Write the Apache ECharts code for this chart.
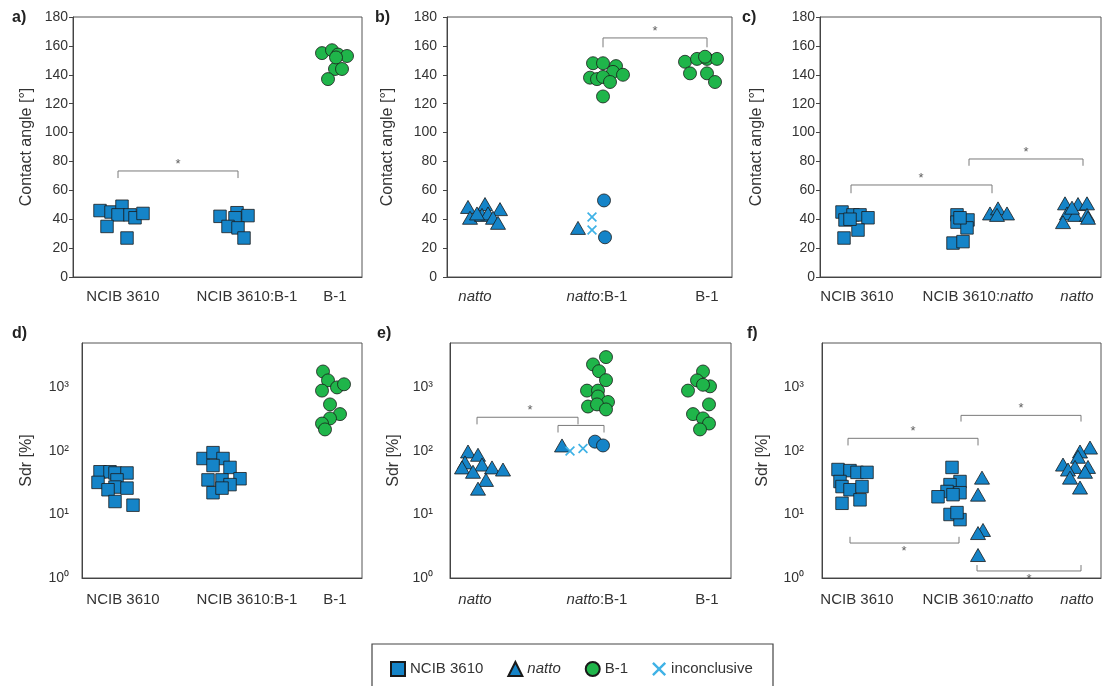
<!DOCTYPE html>
<html><head><meta charset="utf-8">
<script src="https://cdn.jsdelivr.net/npm/echarts@6.0.0/dist/echarts.min.js"></script>
<style>html,body{margin:0;padding:0;background:#fff}#c{width:1102px;height:686px}</style>
</head><body><div id="c"></div>
<script>
// ---------- categories & tick labels ----------
const catsA = ['NCIB 3610', 'NCIB 3610:B-1', 'B-1'];
const catsB = ['natto', 'natto:B-1', 'B-1'];
const catsC = ['NCIB 3610', 'NCIB 3610:natto', 'natto'];
// category centres along each panel's x scale (plot-width units)
const posA = [50, 174, 262];
const posB = [28, 150, 260];
const posC = [37, 158, 257];
const posD = [41, 165, 253];
const posE = [25, 147, 257];
const posF = [35, 156, 255];
const angleTicks = [0, 20, 40, 60, 80, 100, 120, 140, 160, 180];
const sdrTicks = [1, 10, 100, 1000];
const sdrTickLabels = ['10\u2070', '10\u00b9', '10\u00b2', '10\u00b3'];

// ---------- panel a: contact angle ----------
const aNcibX = [27, 38, 49, 45, 57, 62, 70, 34, 54];
const aNcibY = [46, 45, 49, 43, 43, 41, 44, 35, 27];
const aMixX = [147, 164, 162, 175, 155, 165, 171];
const aMixY = [42, 44.5, 41, 42.5, 35, 34, 27];
const aB1X = [249, 259, 265, 274, 262, 269, 255, 263];
const aB1Y = [155, 157, 154, 153, 144, 144, 137, 152];
// ---------- panel b ----------
const bNattoX = [21, 38, 53, 23, 35, 41, 46, 51, 30];
const bNattoY = [48.5, 50.5, 47, 41, 43, 44, 41, 37.5, 44];
const bMixTriX = [131], bMixTriY = [34];
const bMixCrossX = [145, 145], bMixCrossY = [41.5, 32.5];
const bMixBlueX = [157, 158], bMixBlueY = [53, 27.5];
const bMixGreenX = [146, 156, 169, 166, 176, 143, 150, 156, 163, 156];
const bMixGreenY = [148, 148, 146, 142, 140, 138, 137, 138.5, 135, 125];
const bB1X = [238, 250, 260, 270, 243, 260, 268, 258];
const bB1Y = [149, 151, 151, 151, 141, 141, 135, 152.5];
// ---------- panel c ----------
const cNcibX = [22, 25, 33, 40, 48, 38, 24, 30];
const cNcibY = [45, 39.5, 43, 43, 41, 32.5, 27, 40];
const cMixSqX = [137, 137, 148, 147, 133, 143, 140];
const cMixSqY = [43, 38, 39.5, 34, 23.5, 24.5, 41];
const cMixTriX = [170, 178, 187, 177];
const cMixTriY = [44, 47.5, 44, 43];
const cNattoX = [245, 258, 267, 247, 255, 267, 243, 268, 252];
const cNattoY = [51, 50.5, 51, 44, 43, 43, 38, 41, 48];
// ---------- panel d: Sdr ----------
const dNcibX = [18, 28, 33, 45, 16, 35, 33, 45, 26, 33, 51];
const dNcibY = [47, 47, 45, 45, 32, 35, 27, 26, 24.5, 16, 14];
const dMixX = [121, 131, 141, 131, 148, 126, 140, 158, 148, 131, 140];
const dMixY = [76, 94, 76, 59, 55, 35, 35, 36.5, 29.5, 22, 26];
const dB1X = [241, 246, 255, 262, 240, 248, 258, 248, 240, 243];
const dB1Y = [1780, 1290, 1000, 1120, 890, 540, 380, 325, 270, 218];
// ---------- panel e ----------
const eNattoX = [18, 28, 15, 32, 42, 53, 12, 23, 36, 28];
const eNattoY = [98, 87, 66, 61, 55, 51, 55, 47, 35, 25.5];
const eMixTriX = [112], eMixTriY = [122];
const eMixCrossX = [120, 133], eMixCrossY = [100, 109];
const eMixBlueX = [145, 153], eMixBlueY = [140, 122];
const eMixGreenX = [156, 143, 149, 156, 137, 148, 148, 158, 138, 147, 156];
const eMixGreenY = [3000, 2300, 1800, 1300, 890, 890, 720, 590, 500, 540, 450];
const eB1X = [253, 247, 260, 238, 253, 259, 243, 253, 259, 250];
const eB1Y = [1780, 1290, 1040, 890, 1100, 540, 380, 325, 270, 218];
// ---------- panel f ----------
const fNcibX = [16, 28, 35, 45, 18, 20, 28, 40, 38, 20];
const fNcibY = [51, 49, 46, 46, 33, 27.5, 24.5, 27.5, 17, 15];
const fMixSqX = [130, 138, 128, 125, 116, 138, 131, 128, 138, 135];
const fMixSqY = [55, 33, 29.5, 23, 19, 22, 20.5, 10, 8.3, 10.7];
const fMixTriX = [160, 156, 161, 156, 156];
const fMixTriY = [38, 20.5, 5.7, 5.1, 2.3];
const fNattoX = [268, 258, 256, 241, 253, 266, 246, 263, 248, 258];
const fNattoY = [113, 98, 81, 61, 56, 56, 51, 47, 38, 26.5];
// ---------- significance brackets: [x1, x2, yLine, yEnd] ----------
const bracketsA = [[45, 165, 73.4, 68.5]];
const bracketsB = [[156, 260, 165.5, 159]];
const bracketsC = [[31, 172, 63.7, 58], [149, 263, 81.7, 77]];
const bracketsE = [[27, 128, 339, 262], [108, 154, 252, 195]];
const bracketsF = [[26, 156, 158, 122], [139, 259, 363, 290], [28, 137, 3.55, 4.45], [155, 259, 1.29, 1.6]];
// star positions: [x, y, side]
const starsA = [[105, 73.4, 'top']];
const starsB = [[208, 165.5, 'top']];
const starsC = [[101, 63.7, 'top'], [206, 81.7, 'top']];
const starsE = [[80, 339, 'top']];
const starsF = [[91, 158, 'top'], [199, 363, 'top'], [82, 3.55, 'bottom'], [207, 1.29, 'bottom']];

// ---------- styling ----------
const BLUE = '#1584c8', GREEN = '#1fb54a', LIGHT = '#3fb2e6', EDGE = '#1a1a1a';
const FONT = 'Arial, "Liberation Sans", Helvetica, sans-serif';
const CROSS = 'path://M0,1.2L1.2,0L5,3.8L8.8,0L10,1.2L6.2,5L10,8.8L8.8,10L5,6.2L1.2,10L0,8.8L3.8,5Z';

const pts = (xs, ys) => xs.map((x, i) => [x, ys[i]]);
const ital = s => s.replace(/natto/g, '{i|natto}');

const panels = [
  {grid: {left: 73, top: 17, width: 289, height: 260}, log: false, cats: catsA, pos: posA, name: 'Contact angle [°]', gap: 38, lm: 5, ticks: true},
  {grid: {left: 447, top: 17, width: 285, height: 260}, log: false, cats: catsB, pos: posB, name: 'Contact angle [°]', gap: 51, lm: 10, ticks: true},
  {grid: {left: 820, top: 17, width: 281, height: 260}, log: false, cats: catsC, pos: posC, name: 'Contact angle [°]', gap: 55, lm: 5, ticks: true},
  {grid: {left: 82, top: 343, width: 280, height: 235}, log: true, cats: catsA, pos: posD, name: 'Sdr [%]', gap: 47, lm: 13, ticks: false},
  {grid: {left: 450, top: 343, width: 281, height: 235}, log: true, cats: catsB, pos: posE, name: 'Sdr [%]', gap: 48, lm: 17, ticks: false},
  {grid: {left: 822, top: 343, width: 279, height: 235}, log: true, cats: catsC, pos: posF, name: 'Sdr [%]', gap: 51, lm: 18, ticks: false}
];

const grids = [], xAxes = [], yAxes = [];
panels.forEach((p, i) => {
  grids.push(Object.assign({show: true, borderColor: '#555', borderWidth: 1, backgroundColor: 'transparent'}, p.grid));
  xAxes.push({
    gridIndex: i, type: 'value', min: 0, max: p.grid.width,
    axisLine: {show: true, onZero: false, lineStyle: {color: '#444', width: 1}},
    axisTick: {show: false}, splitLine: {show: false},
    axisLabel: {
      customValues: p.pos, color: '#333', fontSize: 15, fontFamily: FONT, margin: p.log ? 14 : 12,
      formatter: v => ital(p.cats[p.pos.indexOf(v)] || ''),
      rich: {i: {fontStyle: 'italic', fontSize: 15, color: '#333', fontFamily: FONT}}
    }
  });
  const y = {
    gridIndex: i, name: p.name, nameLocation: 'middle', nameGap: p.gap,
    nameTextStyle: {color: '#333', fontSize: 16, fontFamily: FONT},
    axisLine: {show: true, lineStyle: {color: '#444', width: 1}},
    axisTick: {show: p.ticks, inside: false, length: 4, lineStyle: {color: '#444'}},
    splitLine: {show: false},
    axisLabel: {color: '#333', fontSize: 14, fontFamily: FONT, margin: p.lm}
  };
  if (p.log) {
    Object.assign(y, {type: 'log', logBase: 10, min: 1, max: 5000});
    y.axisLabel.customValues = sdrTicks;
    y.axisLabel.formatter = v => sdrTickLabels[sdrTicks.indexOf(Math.round(v))] || '';
    y.axisTick.customValues = sdrTicks;
  } else {
    Object.assign(y, {type: 'value', min: 0, max: 180, interval: 20});
    y.axisLabel.customValues = angleTicks;
    y.axisTick.customValues = angleTicks;
  }
  yAxes.push(y);
});

const series = [];
function sc(i, name, shape, color, xs, ys) {
  let size = 12.5, style = {color: color, borderColor: EDGE, borderWidth: 0.8, opacity: 1};
  if (shape === 'triangle') size = [15, 13];
  if (shape === 'circle') size = 13;
  if (shape === CROSS) { size = 10; style = {color: color, borderWidth: 0, opacity: 1}; }
  series.push({type: 'scatter', name: name, xAxisIndex: i, yAxisIndex: i, symbol: shape,
    symbolSize: size, itemStyle: style, data: pts(xs, ys), silent: true, z: 3});
}
function brackets(i, list, stars) {
  list.forEach(b => series.push({type: 'line', xAxisIndex: i, yAxisIndex: i, symbol: 'none', silent: true, z: 2,
    lineStyle: {color: '#7a7a7a', width: 1}, data: [[b[0], b[3]], [b[0], b[2]], [b[1], b[2]], [b[1], b[3]]]}));
  stars.forEach(s => series.push({type: 'scatter', xAxisIndex: i, yAxisIndex: i, symbolSize: 1, silent: true, z: 2,
    itemStyle: {color: 'transparent'},
    label: {show: true, formatter: '*', position: s[2], distance: s[2] === 'top' ? 0 : 1, color: '#333', fontSize: 13, fontFamily: FONT},
    data: [[s[0], s[1]]]}));
}
// a
sc(0, 'NCIB 3610', 'rect', BLUE, aNcibX, aNcibY);
sc(0, 'NCIB 3610', 'rect', BLUE, aMixX, aMixY);
sc(0, 'B-1', 'circle', GREEN, aB1X, aB1Y);
brackets(0, bracketsA, starsA);
// b
sc(1, 'natto', 'triangle', BLUE, bNattoX, bNattoY);
sc(1, 'natto', 'triangle', BLUE, bMixTriX, bMixTriY);
sc(1, 'inconclusive', CROSS, LIGHT, bMixCrossX, bMixCrossY);
sc(1, 'B-1 blue', 'circle', BLUE, bMixBlueX, bMixBlueY);
sc(1, 'B-1', 'circle', GREEN, bMixGreenX, bMixGreenY);
sc(1, 'B-1', 'circle', GREEN, bB1X, bB1Y);
brackets(1, bracketsB, starsB);
// c
sc(2, 'NCIB 3610', 'rect', BLUE, cNcibX, cNcibY);
sc(2, 'NCIB 3610', 'rect', BLUE, cMixSqX, cMixSqY);
sc(2, 'natto', 'triangle', BLUE, cMixTriX, cMixTriY);
sc(2, 'natto', 'triangle', BLUE, cNattoX, cNattoY);
brackets(2, bracketsC, starsC);
// d
sc(3, 'NCIB 3610', 'rect', BLUE, dNcibX, dNcibY);
sc(3, 'NCIB 3610', 'rect', BLUE, dMixX, dMixY);
sc(3, 'B-1', 'circle', GREEN, dB1X, dB1Y);
// e
sc(4, 'natto', 'triangle', BLUE, eNattoX, eNattoY);
sc(4, 'natto', 'triangle', BLUE, eMixTriX, eMixTriY);
sc(4, 'inconclusive', CROSS, LIGHT, eMixCrossX, eMixCrossY);
sc(4, 'B-1 blue', 'circle', BLUE, eMixBlueX, eMixBlueY);
sc(4, 'B-1', 'circle', GREEN, eMixGreenX, eMixGreenY);
sc(4, 'B-1', 'circle', GREEN, eB1X, eB1Y);
brackets(4, bracketsE, starsE);
// f
sc(5, 'NCIB 3610', 'rect', BLUE, fNcibX, fNcibY);
sc(5, 'NCIB 3610', 'rect', BLUE, fMixSqX, fMixSqY);
sc(5, 'natto', 'triangle', BLUE, fMixTriX, fMixTriY);
sc(5, 'natto', 'triangle', BLUE, fNattoX, fNattoY);
brackets(5, bracketsF, starsF);

const letters = [['a)', 12, 10], ['b)', 375, 10], ['c)', 742, 10], ['d)', 12, 326], ['e)', 377, 326], ['f)', 747, 326]];

const option = {
  animation: false,
  backgroundColor: '#fff',
  textStyle: {fontFamily: FONT},
  grid: grids, xAxis: xAxes, yAxis: yAxes, series: series,
  legend: {
    data: ['NCIB 3610', 'natto', 'B-1', 'inconclusive'],
    left: 385, top: 656, itemWidth: 14, itemHeight: 14, itemGap: 24, selectedMode: false,
    textStyle: {color: '#333', fontSize: 15, fontFamily: FONT,
      rich: {i: {fontStyle: 'italic', fontSize: 15, color: '#333', fontFamily: FONT}}},
    formatter: n => ital(n)
  },
  graphic: letters.map(l => ({type: 'text', left: l[1], top: l[2],
      style: {text: l[0], font: 'bold 16px ' + FONT, fill: '#222'}}))
    .concat([{type: 'rect', shape: {x: 372, y: 644, width: 401, height: 60},
      style: {fill: 'none', stroke: '#444', lineWidth: 1.2}, silent: true}])
};
const chart = echarts.init(document.getElementById('c'));
chart.setOption(option);
</script></body></html>
